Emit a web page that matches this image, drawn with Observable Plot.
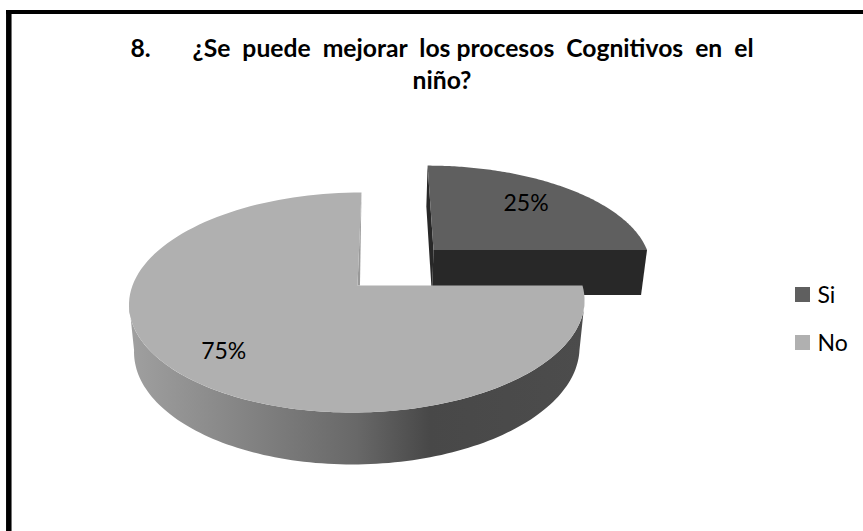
<!DOCTYPE html>
<html>
<head>
<meta charset="utf-8">
<script src="https://cdn.jsdelivr.net/npm/d3@7"></script>
<script src="https://cdn.jsdelivr.net/npm/@observablehq/plot@0.6"></script>
<style>html,body{margin:0;padding:0;background:#fff}svg{display:block}</style>
</head>
<body>
<div id="chart"></div>
<script>
const categories = ["Si", "No"];
const values = [25, 75];
const percentLabels = ["25%", "75%"];
const topColors = ["#5f5f5f", "#b0b0b0"];
const gap = "\u00a0\u00a0";
const titleLines = [
  "8.\u00a0\u00a0\u00a0\u00a0\u00a0\u00a0\u00a0¿Se" + gap + "puede" + gap + "mejorar" + gap + "los procesos" + gap + "Cognitivos" + gap + "en" + gap + "el",
  "niño?"
];

// Perspective view of the pie's ground plane (u right, v toward viewer, h down).
const persp = 0.1545;
function project(u, v, h = 0) {
  const w = 1 - persp * v;
  const x = 357 + (225 * u - 4.6 * v) / w;
  const y = 285 + (107.4 * v) / w;
  if (!h) return {x, y};
  return {x: (x * w + 7.83) / (w + 0.022), y: (y * w + 54.1) / (w + 0.022)};
}

const total = d3.sum(values);
const TAU = 2 * Math.PI;
const turnStart = i => d3.sum(values.slice(0, i)) / total;
const angles = i => d3.range(0, 121).map(k => TAU * (turnStart(i) + (values[i] / total) * k / 120));
const explode = 0.4935;
const mid0 = TAU * values[0] / total / 2;
const off = {u: explode * Math.cos(mid0), v: -explode * Math.sin(mid0)};
const polar = (a, r = 1, o = {u: 0, v: 0}) => [o.u + r * Math.cos(a), o.v - r * Math.sin(a)];

// Si wedge
const siArc = angles(0).map(a => polar(a, 1, off));
const siApex = [off.u, off.v];
const siTop = [siApex, ...siArc].map(([u, v]) => project(u, v));
const siFront = [[...siArc[0]], siApex].map(([u, v]) => project(u, v))
  .concat([siApex, siArc[0]].map(([u, v]) => project(u, v, 1)));
const siInner = [siApex, siArc[120]].map(([u, v]) => project(u, v))
  .concat([siArc[120], siApex].map(([u, v]) => project(u, v, 1)));

// No slice: the outer wall runs between the two silhouette tangents of the rim
const noAngles = angles(1);
const noTop = [[0, 0], ...noAngles.map(a => polar(a))].map(([u, v]) => project(u, v));
const silhouette = Math.asin(persp);
const frontAngles = d3.range(0, 121)
  .map(k => Math.PI + silhouette + (Math.PI - 2 * silhouette) * k / 120)
  .map(a => polar(a));
const noWall = frontAngles.map(([u, v]) => project(u, v))
  .concat(frontAngles.slice().reverse().map(([u, v]) => project(u, v, 1)));
const noSliver = [project(0, -1), project(0, 0), project(0.011, 0)];

const poly = (pts, fill, extra = {}) =>
  Plot.line(pts, {x: "x", y: "y", fill, stroke: "none", ...extra});

const labelTurn = 0.032;
const labelAt = [
  polar(mid0 + labelTurn, 0.705, off),
  polar(TAU * (turnStart(1) + values[1] / total / 2) + labelTurn, 0.776)
].map(([u, v], i) => ({...project(u, v), label: percentLabels[i]}));

const legend = categories.map((name, i) => ({name, i, color: topColors[i]}));
const font = "Lato, 'Open Sans', sans-serif";

const chart = Plot.plot({
  width: 863,
  height: 531,
  margin: 0,
  x: {domain: [0, 863], range: [0, 863], axis: null},
  y: {domain: [0, 531], range: [0, 531], axis: null},
  style: {background: "#fff"},
  marks: [
    () => {
      const ns = "http://www.w3.org/2000/svg";
      const defs = document.createElementNS(ns, "defs");
      const g = document.createElementNS(ns, "linearGradient");
      g.setAttribute("id", "wallShade");
      for (const [o, c] of [[0, "#a0a0a0"], [0.5, "#686868"], [0.66, "#484848"], [1, "#4c4c4c"]]) {
        const s = document.createElementNS(ns, "stop");
        s.setAttribute("offset", o);
        s.setAttribute("stop-color", c);
        g.appendChild(s);
      }
      defs.appendChild(g);
      return defs;
    },
    Plot.ruleX([8.3], {y1: 10, y2: 531, stroke: "#000", strokeWidth: 5.5}),
    Plot.ruleY([11.5], {x1: 6, x2: 863, stroke: "#000", strokeWidth: 4}),
    poly(siInner, "#282828"),
    poly(siFront, "#282828"),
    poly(siTop, topColors[0]),
    poly(noWall, "url(#wallShade)"),
    poly(noSliver, "#999999"),
    poly(noTop, topColors[1]),
    Plot.text(labelAt, {x: "x", y: "y", text: "label", fontFamily: font, fontSize: 23, fill: "#000"}),
    Plot.text(titleLines, {
      x: () => 441.5,
      y: (d, i) => 48.3 + i * 32,
      text: d => d,
      fontFamily: font,
      fontWeight: 700,
      fontSize: 24.7,
      fill: "#000"
    }),
    Plot.rect(legend, {
      x1: () => 795, x2: () => 810,
      y1: d => 287 + d.i * 48, y2: d => 302 + d.i * 48,
      fill: d => d.color
    }),
    Plot.text(legend, {
      x: () => 817,
      y: d => 295 + d.i * 48,
      text: "name",
      textAnchor: "start",
      fontFamily: font,
      fontSize: 23,
      fill: "#000"
    })
  ]
});
document.getElementById("chart").appendChild(chart);
</script>
</body>
</html>
